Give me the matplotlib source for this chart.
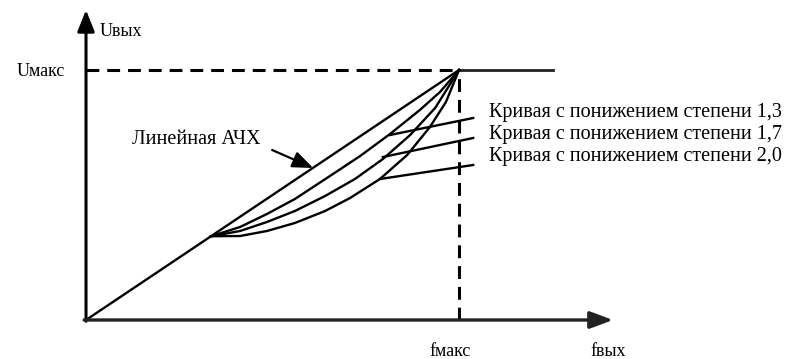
import matplotlib
matplotlib.use("Agg")
import matplotlib.pyplot as plt

plt.rcParams['font.family'] = ['Liberation Serif', 'DejaVu Serif']

# curves (f / fmax, U / Umax)
lin_f = [0.0, 1.0]
lin_u = [0.0, 1.0]

c13_f = [0.335, 0.413, 0.485, 0.560, 0.654, 0.735, 0.815, 0.895, 0.949, 1.0]
c13_u = [0.335, 0.372, 0.424, 0.484, 0.576, 0.656, 0.744, 0.840, 0.912, 1.0]

c17_f = [0.335, 0.413, 0.485, 0.560, 0.641, 0.721, 0.796, 0.869, 0.936, 1.0]
c17_u = [0.335, 0.356, 0.392, 0.436, 0.496, 0.564, 0.644, 0.740, 0.848, 1.0]

c20_f = [0.335, 0.413, 0.485, 0.560, 0.641, 0.708, 0.788, 0.861, 0.922, 0.965, 1.0]
c20_u = [0.335, 0.336, 0.356, 0.388, 0.436, 0.488, 0.564, 0.660, 0.772, 0.872, 1.0]

curve_labels = ['Кривая с понижением степени 1,3',
                'Кривая с понижением степени 1,7',
                'Кривая с понижением степени 2,0']
# leader lines: start on curve, end near label
lead_f0 = [0.815, 0.796, 0.788]
lead_u0 = [0.740, 0.652, 0.564]
lead_f1 = [1.038, 1.038, 1.038]
lead_u1 = [0.808, 0.728, 0.620]
label_u = [0.832, 0.740, 0.652]

fig = plt.figure(figsize=(8.01, 3.59), dpi=100)
ax = fig.add_axes([0, 0, 1, 1])
ax.set_xlim(-0.2306, 1.9169)
ax.set_ylim(-0.156, 1.28)
ax.axis('off')

# axes with arrows
ax.annotate('', xy=(0, 1.24), xytext=(0, -0.005),
            arrowprops=dict(arrowstyle='-|>,head_length=0.65,head_width=0.26',
                            mutation_scale=20, lw=2.2, color='black',
                            shrinkA=0, shrinkB=0))
ax.annotate('', xy=(1.413, 0), xytext=(-0.005, 0),
            arrowprops=dict(arrowstyle='-|>,head_length=0.7,head_width=0.26',
                            mutation_scale=20, lw=2.4, color='#222222',
                            shrinkA=0, shrinkB=0))

# Umax / fmax guides
ax.plot([0, 1], [1, 1], color='black', lw=2.2, linestyle=(0, (4.2, 2.6)))
ax.plot([1, 1], [0, 1], color='black', lw=2.2, linestyle=(0, (4.2, 2.6)))
ax.plot([1, 1.252], [1, 1], color='#222222', lw=2.0)

ax.plot(lin_f, lin_u, color='black', lw=1.7)
for cf, cu in [(c13_f, c13_u), (c17_f, c17_u), (c20_f, c20_u)]:
    ax.plot(cf, cu, color='black', lw=1.7, solid_joinstyle='round')

for i, lab in enumerate(curve_labels):
    ax.plot([lead_f0[i], lead_f1[i]], [lead_u0[i], lead_u1[i]], color='black', lw=1.7)
    ax.text(1.080, label_u[i], lab, fontsize=14.5, va='center', ha='left')

ax.text(0.123, 0.724, 'Линейная АЧХ', fontsize=14.5, va='center', ha='left')
ax.annotate('', xy=(0.609, 0.608), xytext=(0.499, 0.68),
            arrowprops=dict(arrowstyle='-|>,head_length=0.7,head_width=0.28',
                            mutation_scale=18, lw=1.6, color='black',
                            shrinkA=0, shrinkB=0))

ax.text(0.0375, 1.156, 'Uвых', fontsize=13, va='center', ha='left')
ax.text(-0.185, 0.996, 'Uмакс', fontsize=13, va='center', ha='left')
ax.text(0.920, -0.128, 'fмакс', fontsize=13, va='center', ha='left')
ax.text(1.351, -0.128, 'fвых', fontsize=13, va='center', ha='left')

fig.savefig('out.png', dpi=100)
